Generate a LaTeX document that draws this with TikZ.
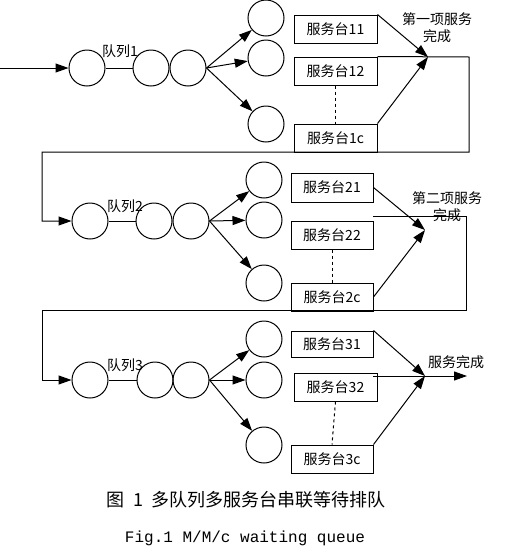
\documentclass[tikz,border=0pt]{standalone}
\usepackage{fontspec}
\setmainfont{Noto Sans CJK SC}
\newfontfamily\capmono{Liberation Mono}
\usetikzlibrary{arrows.meta}

\begin{document}
\begin{tikzpicture}[x=1pt,y=-1pt,>={Triangle[length=13pt,width=9pt]},line width=1pt,
  qcirc/.style={circle,draw,minimum size=36pt,inner sep=0pt},
  desk/.style={draw,minimum width=82pt,minimum height=28pt,inner sep=0pt,font=\fontsize{14}{16}\selectfont},
  tag/.style={font=\fontsize{14}{17}\selectfont}]

\useasboundingbox (0,0) rectangle (506,555);

% --- Queue 1 ---
\coordinate (in1) at (0,68);
\node[qcirc] (q1a) at (87,68) {};
\node[qcirc] (q1b) at (151,68) {};
\node[qcirc] (q1c) at (188,68) {};
\node[tag] (l1) at (120,51) {队列1};
\draw[->] (in1) -- (q1a);
\draw (q1a) -- (q1b);

\node[qcirc] (s11) at (266,18) {};
\node[qcirc] (s12) at (266,58) {};
\node[qcirc] (s1c) at (266,124) {};
\draw[->] (q1c.east) -- (s11);
\draw[->] (q1c.east) -- (s12);
\draw[->] (q1c.east) -- (s1c);

\node[desk,minimum width=83pt] (b11) at (335.5,29) {服务台11};
\node[desk,minimum width=83pt] (b12) at (335.5,71) {服务台12};
\node[desk,minimum width=83pt] (b1c) at (335.5,138) {服务台1c};
\draw[dashed] (b12.south) -- (b1c.north);

\coordinate (done1) at (428,57);
\node[tag,align=center] (t1) at (437,28) {第一项服务\\完成};
\draw[->] (b11.north east) -- (done1);
\draw[->] (b1c.north east) -- (done1);

% --- Queue 2 ---
\node[qcirc] (q2a) at (90,221) {};
\node[qcirc] (q2b) at (154,221) {};
\node[qcirc] (q2c) at (191,221) {};
\node[tag] (l2) at (125,206) {队列2};
\draw (q2a) -- (q2b);

% --- Feedback 1 -> 2 ---
\coordinate (fb1) at (469,57);
\coordinate (fb1b) at (42,152);
\draw[->] (b12.north east) -- (fb1) |- (fb1b) |- (q2a.west);

\node[qcirc] (s21) at (264,180) {};
\node[qcirc] (s22) at (264,220) {};
\node[qcirc] (s2c) at (264,283) {};
\draw[->] (q2c.east) -- (s21);
\draw[->] (q2c.east) -- (s22);
\draw[->] (q2c.east) -- (s2c);

\node[desk,minimum height=29pt] (b21) at (332,187.5) {服务台21};
\node[desk] (b22) at (332,235) {服务台22};
\node[desk] (b2c) at (332,297) {服务台2c};
\draw[dashed] (b22.south) -- (b2c.north);

\coordinate (done2) at (425,230);
\node[tag,align=center] (t2) at (447,207) {第二项服务\\完成};
\draw[->] (b21.east) -- (done2);
\draw[->] (b2c.east) -- (done2);

% --- Queue 3 ---
\node[qcirc] (q3a) at (90,380) {};
\node[qcirc] (q3b) at (155,380) {};
\node[qcirc] (q3c) at (191,380) {};
\node[tag] (l3) at (125,365) {队列3};
\draw (q3a) -- (q3b);

% --- Feedback 2 -> 3 ---
\coordinate (fb2a) at (373,216);
\coordinate (fb2) at (466,216);
\coordinate (fb2b) at (42,310);
\draw[->] (fb2a) -- (fb2) |- (fb2b) |- (q3a.west);

\node[qcirc] (s31) at (264,339) {};
\node[qcirc] (s32) at (264,380) {};
\node[qcirc] (s3c) at (264,445) {};
\draw[->] (q3c.east) -- (s31);
\draw[->] (q3c.east) -- (s32);
\draw[->] (q3c.east) -- (s3c);

\node[desk,minimum height=26pt] (b31) at (332,344) {服务台31};
\node[desk,minimum width=83pt] (b32) at (335.5,387) {服务台32};
\node[desk] (b3c) at (332,459) {服务台3c};
\draw[dashed] (b32.south) -- (b3c.north);

\coordinate (done3) at (425,376);
\coordinate (out3s) at (373,376);
\coordinate (out3) at (467,376);
\node[tag] (t3) at (456,362) {服务完成};
\draw[->] (b31.north east) -- (done3);
\draw[->] (b3c.north east) -- (done3);
\draw[->] (out3s) -- (out3);

% --- Caption ---
\node[font=\fontsize{18}{18}\selectfont] (cap1) at (246,500) {图\hspace{9pt}1\hspace{9pt}多队列多服务台串联等待排队};
\node[font=\capmono\fontsize{16}{16}\selectfont] (cap2) at (245,538) {Fig.1 M/M/c waiting queue};

\end{tikzpicture}
\end{document}
